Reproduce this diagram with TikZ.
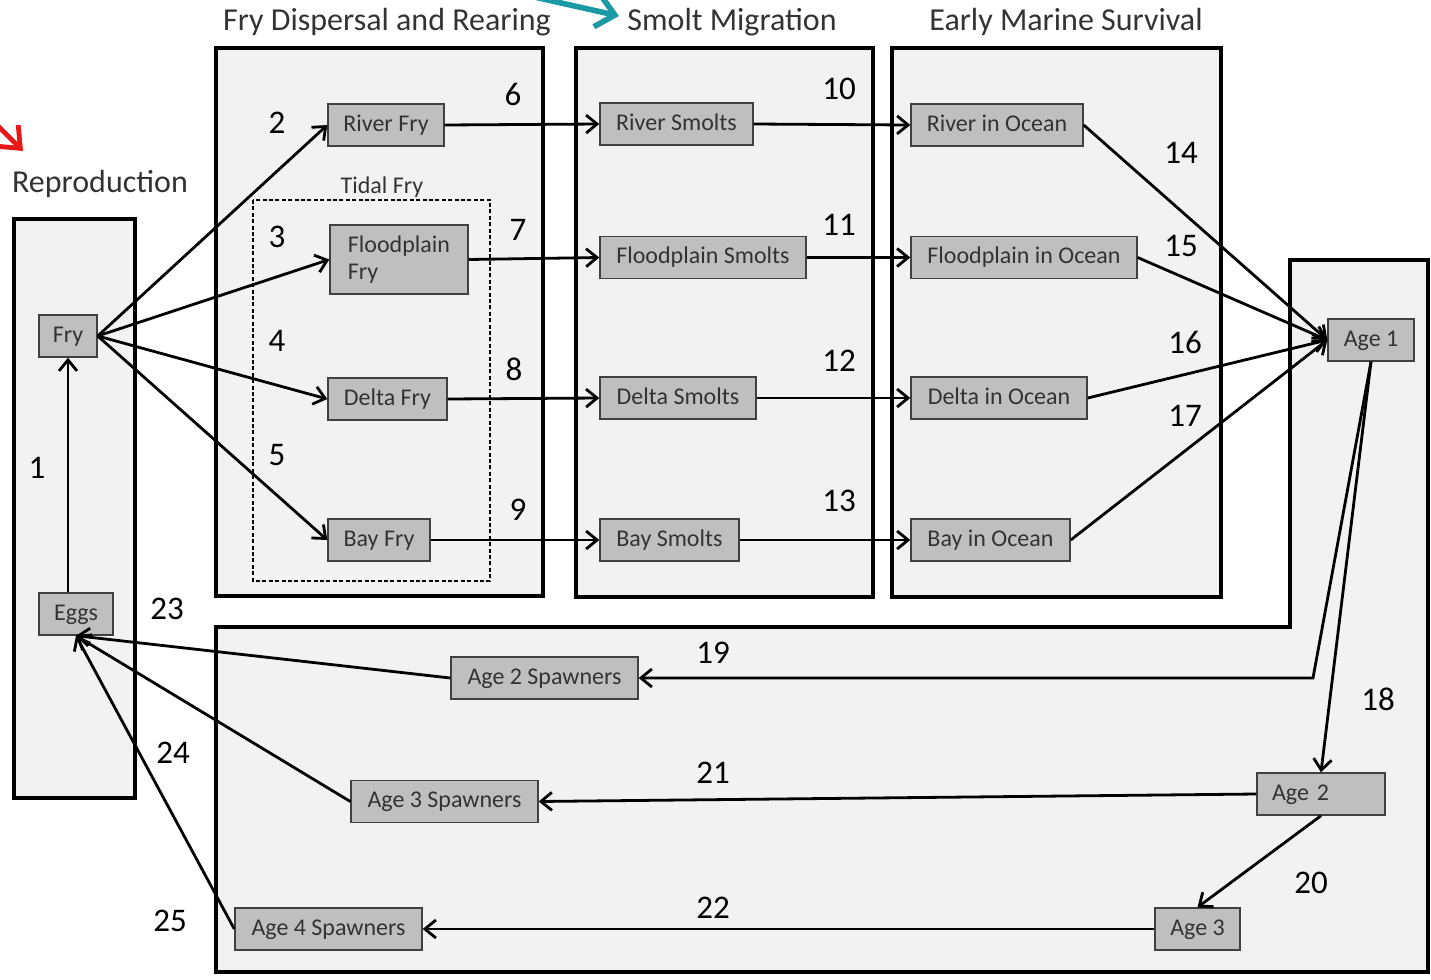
\documentclass[tikz,border=0pt]{standalone}
\usepackage{fontspec}
\setmainfont{Carlito}
\usetikzlibrary{arrows.meta}
\definecolor{framefill}{HTML}{F2F2F2}
\definecolor{boxfill}{HTML}{BFBFBF}
\definecolor{boxline}{HTML}{404040}
\definecolor{txtgray}{HTML}{333333}
\definecolor{tealarrow}{HTML}{1A98A3}
\definecolor{redarrow}{HTML}{E81818}
\begin{document}
\begin{tikzpicture}[x=0.5pt,y=-0.5pt,
  frame/.style={draw=black, line width=2pt, fill=framefill},
  box/.style={draw=boxline, line width=0.7pt, fill=boxfill, text=txtgray,
    font=\fontsize{12}{13.5}\selectfont, minimum height=21pt, inner sep=0pt,
    text height=8.6pt, text depth=2.4pt},
  arr/.style={draw=black, line width=1.4pt, -{Straight Barb[length=5.5pt,width=9pt,line width=1.4pt]}},
  num/.style={font=\fontsize{16.5}{18}\selectfont, text=black, inner sep=0pt},
  title/.style={font=\fontsize{16}{18}\selectfont, text=txtgray, inner sep=0pt, anchor=base}]
\useasboundingbox (0,0) rectangle (1431,980);
\clip (0,0) rectangle (1431,980);

% frames
\path[frame] (14,219) rectangle (135,798);
\path[frame] (216,48) rectangle (543,596);
\path[frame] (576,48) rectangle (873,597);
\path[frame] (892,48) rectangle (1221,597);
\path[frame] (1290,260) -- (1428,260) -- (1428,972) -- (216,972) -- (216,627) -- (1290,627) -- cycle;
\draw[black, line width=0.6pt, dash pattern=on 2pt off 1.2pt] (253,200) rectangle (490,581);

% titles
\node[title] (tfry) at (387,30) {Fry Dispersal and Rearing};
\node[title] (tsmolt) at (732,30) {Smolt Migration};
\node[title] (tmarine) at (1066,30) {Early Marine Survival};
\node[title] (trep) at (100,192) {Reproduction};
\node[title, font=\fontsize{12}{14}\selectfont] (ttidal) at (382,193) {Tidal Fry};

% nodes
\node[box, minimum width=29pt] (fry) at (68,336) {Fry};
\node[box, minimum width=37pt] (eggs) at (76,614) {Eggs};
\node[box, minimum width=58pt] (rfry) at (386,125) {River Fry};
\node[box, minimum width=69pt, minimum height=34.5pt, align=left, text height=, text depth=] (ffry) at (399,259.5) {Floodplain\\Fry};
\node[box, minimum width=59.5pt] (dfry) at (387.5,399) {Delta Fry};
\node[box, minimum width=51pt] (bfry) at (379,540) {Bay Fry};
\node[box, minimum width=76.5pt] (rsm) at (676.5,124) {River Smolts};
\node[box, minimum width=103pt] (fsm) at (703,257.5) {Floodplain Smolts};
\node[box, minimum width=78pt] (dsm) at (678,398) {Delta Smolts};
\node[box, minimum width=69.5pt] (bsm) at (669.5,540) {Bay Smolts};
\node[box, minimum width=86pt] (roc) at (997,125) {River in Ocean};
\node[box, minimum width=113pt] (foc) at (1024,257.5) {Floodplain in Ocean};
\node[box, minimum width=88pt] (doc) at (999,398) {Delta in Ocean};
\node[box, minimum width=79.5pt] (boc) at (990.5,540) {Bay in Ocean};
\node[box, minimum width=43pt] (age1) at (1371,340) {Age 1};
\node[box, minimum width=64pt, text width=49pt, align=left] (age2) at (1321,794) {Age 2};
\node[box, minimum width=42.5pt] (age3) at (1197.5,929) {Age 3};
\node[box, minimum width=93.5pt] (sp2) at (544.5,678) {Age 2 Spawners};
\node[box, minimum width=93.5pt] (sp3) at (444.5,801.5) {Age 3 Spawners};
\node[box, minimum width=93.5pt] (sp4) at (328.5,929) {Age 4 Spawners};

% connectors
\draw[arr] (eggs.north -| fry.south) -- (fry.south);
\draw[arr] (fry.east) -- (rfry.west);
\draw[arr] (fry.east) -- (ffry.west);
\draw[arr] (fry.east) -- (dfry.west);
\draw[arr] (fry.east) -- (bfry.west);
\draw[arr] (rfry.east) -- (rsm.west);
\draw[arr] (ffry.east) -- (fsm.west);
\draw[arr] (dfry.east) -- (dsm.west);
\draw[arr] (bfry.east) -- (bsm.west);
\draw[arr] (rsm.east) -- (roc.west);
\draw[arr] (fsm.east) -- (foc.west);
\draw[arr] (dsm.east) -- (doc.west);
\draw[arr] (bsm.east) -- (boc.west);
\draw[arr] (roc.east) -- (age1.west);
\draw[arr] (foc.east) -- (age1.west);
\draw[arr] (doc.east) -- (age1.west);
\draw[arr] (boc.east) -- (age1.west);
\coordinate (bend19) at (1313,678);
\draw[arr] (age1.south) -- (bend19) -- (sp2.east);
\draw[arr] (age1.south) -- (age2.north);
\draw[arr] (age2.south) -- (age3.north);
\draw[arr] (age2.west) -- (sp3.east);
\draw[arr] (age3.west) -- (sp4.east);
\draw[arr] (sp2.west) -- (eggs.south);
\draw[arr] (sp3.west) -- (eggs.south);
\draw[arr] (sp4.west) -- (eggs.south);

% numbers
\node[num] (n1) at (37,468) {1};
\node[num] (n2) at (277,123) {2};
\node[num] (n3) at (277,237) {3};
\node[num] (n4) at (277,341) {4};
\node[num] (n5) at (277,455) {5};
\node[num] (n6) at (513,94) {6};
\node[num] (n7) at (518,230) {7};
\node[num] (n8) at (514,369) {8};
\node[num] (n9) at (518,510) {9};
\node[num] (n10) at (839,89) {10};
\node[num] (n11) at (839,225) {11};
\node[num] (n12) at (839,361) {12};
\node[num] (n13) at (839,501) {13};
\node[num] (n14) at (1181,153) {14};
\node[num] (n15) at (1181,246) {15};
\node[num] (n16) at (1185,342) {16};
\node[num] (n17) at (1185,416) {17};
\node[num] (n18) at (1378,699) {18};
\node[num] (n19) at (713,653) {19};
\node[num] (n20) at (1311,883) {20};
\node[num] (n21) at (713,773) {21};
\node[num] (n22) at (713,908) {22};
\node[num] (n23) at (167,609) {23};
\node[num] (n24) at (173,753) {24};
\node[num] (n25) at (170,921) {25};

% partial pointer arrows at the edges
\coordinate (tealS) at (530,-4);
\coordinate (tealE) at (619,16);
\draw[tealarrow, line width=2.8pt, -{Straight Barb[length=9pt,width=16pt,line width=2.8pt]}] (tealS) -- (tealE);
\coordinate (redS) at (-20,108);
\coordinate (redE) at (23,151);
\draw[redarrow, line width=2.4pt, -{Straight Barb[length=9pt,width=15pt,line width=2.4pt]}] (redS) -- (redE);
\end{tikzpicture}
\end{document}
